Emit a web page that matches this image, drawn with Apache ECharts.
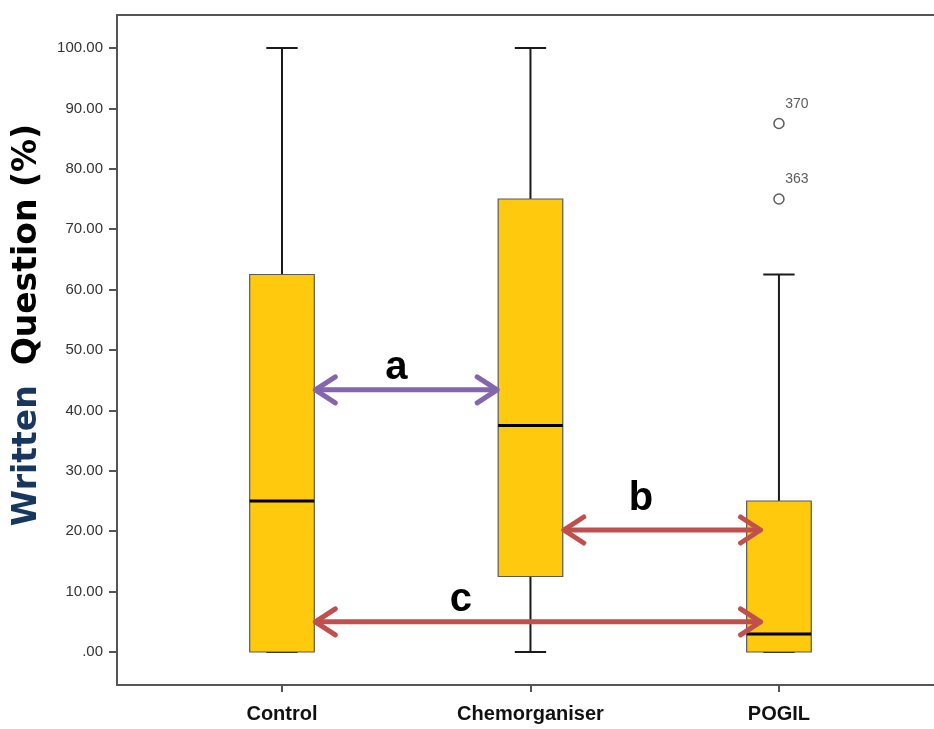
<!DOCTYPE html>
<html>
<head>
<meta charset="utf-8">
<script src="https://cdn.jsdelivr.net/npm/echarts@6/dist/echarts.min.js"></script>
<style>
	html, body { margin: 0; padding: 0; background: #fff; }
	#chart { width: 934px; height: 729px; }
</style>
</head>
<body>
<div id="chart"></div>
<script>
// groups on the x axis
var categories = ['Control', 'Chemorganiser', 'POGIL'];

// box plot values (min, q1, median, q3, max of whiskers)
var boxMin = [0, 0, 0];
var boxQ1 = [0, 12.5, 0];
var boxMedian = [25, 37.5, 3];
var boxQ3 = [62.5, 75, 25];
var boxMax = [100, 100, 62.5];

// outliers (group index, value, case id)
var outlierGroup = [2, 2];
var outlierValues = [75, 87.5];
var outlierIds = ['363', '370'];

// y tick values
var yTicks = [0, 10, 20, 30, 40, 50, 60, 70, 80, 90, 100];

// comparison arrows, in axis units
var arrowFrom = [0.13, 1.13, 0.13];
var arrowTo = [0.87, 1.93, 1.93];
var arrowY = [43.4, 20.2, 5];
var arrowNames = ['a', 'b', 'c'];
var arrowNameX = [0.46, 1.445, 0.72];
var arrowNameY = [47, 25.3, 8.6];

var arrowColors = ['#8466AC', '#C0504D', '#C0504D'];

var myChart = echarts.init(document.getElementById('chart'));

var boxData = categories.map(function(c, i) {
	return [i, boxMin[i], boxQ1[i], boxMedian[i], boxQ3[i], boxMax[i]];
});
var outlierData = outlierValues.map(function(v, i) {
	return [outlierGroup[i], v, outlierIds[i]];
});
var arrowData = arrowNames.map(function(n, i) {
	return [arrowFrom[i], arrowTo[i], arrowY[i], arrowNameX[i], arrowNameY[i], i];
});

function renderBox(params, api) {
	var x = api.value(0);
	var pMin = api.coord([x, api.value(1)]);
	var pQ1 = api.coord([x, api.value(2)]);
	var pMed = api.coord([x, api.value(3)]);
	var pQ3 = api.coord([x, api.value(4)]);
	var pMax = api.coord([x, api.value(5)]);
	var unit = api.size([1, 0])[0];
	var hw = unit * 0.13;
	var cw = unit * 0.063;
	var cx = pMed[0];
	var wStyle = { stroke: '#1a1a1a', lineWidth: 2 };
	return {
		type: 'group',
		children: [
			{ type: 'line', shape: { x1: cx, y1: pMax[1], x2: cx, y2: pQ3[1] }, style: wStyle },
			{ type: 'line', shape: { x1: cx, y1: pQ1[1], x2: cx, y2: pMin[1] }, style: wStyle },
			{ type: 'line', shape: { x1: cx - cw, y1: pMax[1], x2: cx + cw, y2: pMax[1] }, style: wStyle },
			{ type: 'line', shape: { x1: cx - cw, y1: pMin[1], x2: cx + cw, y2: pMin[1] }, style: wStyle },
			{
				type: 'rect',
				shape: { x: cx - hw, y: pQ3[1], width: hw * 2, height: pQ1[1] - pQ3[1] },
				style: { fill: '#FFC90E', stroke: '#5a5a5a', lineWidth: 1.2 }
			},
			{ type: 'line', shape: { x1: cx - hw, y1: pMed[1], x2: cx + hw, y2: pMed[1] }, style: { stroke: '#000', lineWidth: 3 } }
		]
	};
}

function renderArrow(params, api) {
	var p1 = api.coord([api.value(0), api.value(2)]);
	var p2 = api.coord([api.value(1), api.value(2)]);
	var pt = api.coord([api.value(3), api.value(4)]);
	var i = api.value(5);
	var color = arrowColors[i];
	var head = 21, spread = 13;
	var st = { stroke: color, lineWidth: 5, lineCap: 'round', lineJoin: 'round', fill: null };
	return {
		type: 'group',
		children: [
			{ type: 'line', shape: { x1: p1[0] + 2, y1: p1[1], x2: p2[0] - 2, y2: p2[1] }, style: st },
			{ type: 'polyline', shape: { points: [[p1[0] + head, p1[1] - spread], [p1[0] + 1, p1[1]], [p1[0] + head, p1[1] + spread]] }, style: st },
			{ type: 'polyline', shape: { points: [[p2[0] - head, p2[1] - spread], [p2[0] - 1, p2[1]], [p2[0] - head, p2[1] + spread]] }, style: st },
			{
				type: 'text',
				x: pt[0], y: pt[1],
				style: {
					text: arrowNames[i],
					fill: '#000',
					font: 'bold 40px "Liberation Sans", Arial, sans-serif',
					align: 'center',
					verticalAlign: 'middle'
				}
			}
		]
	};
}

var option = {
	animation: false,
	backgroundColor: '#fff',
	grid: { left: 117, right: 0, top: 15, bottom: 44 },
	xAxis: [{
		type: 'value',
		min: -0.664,
		max: 2.624,
		splitLine: { show: false },
		axisLine: { show: true, onZero: false, lineStyle: { color: '#555', width: 2 } },
		axisTick: { show: true, customValues: [0, 1, 2], length: 7, lineStyle: { color: '#555', width: 2 } },
		axisLabel: {
			customValues: [0, 1, 2],
			formatter: function(v) { return categories[Math.round(v)]; },
			color: '#111',
			fontFamily: '"Liberation Sans", Arial, sans-serif',
			fontWeight: 'bold',
			fontSize: 20,
			margin: 19
		}
	}, {
		type: 'value',
		position: 'top',
		min: -0.664,
		max: 2.624,
		splitLine: { show: false },
		axisLine: { show: true, onZero: false, lineStyle: { color: '#555', width: 2 } },
		axisTick: { show: false },
		axisLabel: { show: false }
	}],
	yAxis: {
		type: 'value',
		min: -5.46,
		max: 105.46,
		splitLine: { show: false },
		axisLine: { show: true, onZero: false, lineStyle: { color: '#555', width: 2 } },
		axisTick: { show: true, customValues: yTicks, length: 8, lineStyle: { color: '#555', width: 2 } },
		axisLabel: {
			customValues: yTicks,
			formatter: function(v) { return v === 0 ? '.00' : v.toFixed(2); },
			color: '#333',
			fontFamily: '"Liberation Sans", Arial, sans-serif',
			fontSize: 15,
			margin: 14
		}
	},
	graphic: [{
		type: 'text',
		x: 27,
		y: 325,
		rotation: Math.PI / 2,
		style: {
			text: '{w|Written}{q|Question (%)}',
			align: 'center',
			verticalAlign: 'middle',
			rich: {
				w: { fill: '#17375E', font: 'bold 33px "DejaVu Sans", sans-serif', padding: [0, 20, 0, 0] },
				q: { fill: '#000', font: 'bold 33px "DejaVu Sans", sans-serif' }
			}
		}
	}],
	series: [{
		type: 'custom',
		name: 'box',
		renderItem: renderBox,
		encode: { x: 0, y: [1, 2, 3, 4, 5] },
		data: boxData,
		clip: false,
		z: 2
	}, {
		type: 'scatter',
		name: 'outliers',
		data: outlierData,
		symbol: 'circle',
		symbolSize: 10,
		itemStyle: { color: '#fff', borderColor: '#333', borderWidth: 1.5 },
		label: {
			show: true,
			position: 'top',
			offset: [18, -2],
			formatter: function(p) { return p.data[2]; },
			color: '#333',
			fontFamily: '"Liberation Sans", Arial, sans-serif',
			fontSize: 14
		},
		z: 3
	}, {
		type: 'custom',
		name: 'arrows',
		renderItem: renderArrow,
		encode: { x: [0, 1], y: 2 },
		data: arrowData,
		clip: false,
		z: 4
	}]
};
myChart.setOption(option);
</script>
</body>
</html>
